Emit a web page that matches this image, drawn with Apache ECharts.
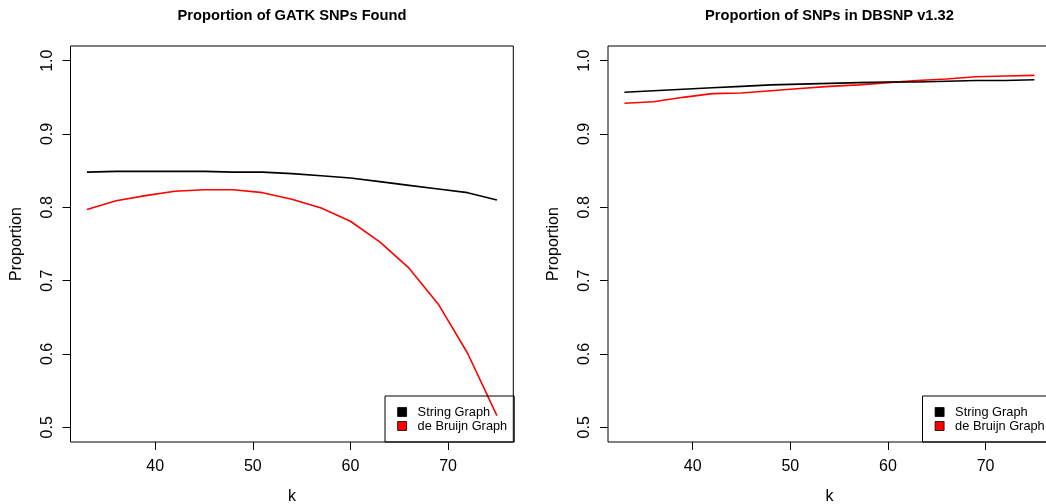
<!DOCTYPE html>
<html>
<head>
<meta charset="utf-8">
<script src="https://cdn.jsdelivr.net/npm/echarts@6/dist/echarts.min.js"></script>
<style>
html, body { margin: 0; padding: 0; background: #fff; }
#view { width: 1046px; height: 504px; }
</style>
</head>
<body>
<div id="view"></div>
<script>
var myChart = echarts.init(document.getElementById('view'));

// k values (x axis)
var kValues = [33, 36, 39, 42, 45, 48, 51, 54, 57, 60, 63, 66, 69, 72, 75];

// left panel: proportion of GATK SNPs found
var gatkString = [0.848, 0.849, 0.849, 0.849, 0.849, 0.848, 0.848, 0.846, 0.843, 0.840, 0.835, 0.830, 0.825, 0.820, 0.810];
var gatkDeBruijn = [0.797, 0.809, 0.816, 0.822, 0.824, 0.824, 0.820, 0.811, 0.799, 0.781, 0.753, 0.717, 0.668, 0.601, 0.516];

// right panel: proportion of SNPs in DBSNP
var dbsnpString = [0.957, 0.959, 0.961, 0.963, 0.965, 0.967, 0.968, 0.969, 0.970, 0.971, 0.971, 0.972, 0.973, 0.973, 0.974];
var dbsnpDeBruijn = [0.942, 0.944, 0.950, 0.955, 0.956, 0.959, 0.962, 0.965, 0.967, 0.970, 0.973, 0.975, 0.978, 0.979, 0.980];

var xTicks = [40, 50, 60, 70];
var yTicks = [0.5, 0.6, 0.7, 0.8, 0.9, 1.0];
var titles = ['Proportion of GATK SNPs Found', 'Proportion of SNPs in DBSNP v1.32'];
var seriesNames = ['String Graph', 'de Bruijn Graph'];
var colors = ['#000000', '#ff0000'];

var font = "'Liberation Sans', Arial, Helvetica, sans-serif";

function pairs(ys) {
    return kValues.map(function (k, i) { return [k, ys[i]]; });
}

// second panel runs past the right edge of the picture, like the reference
var grids = [
    { left: 70.5, width: 442.8, top: 46, height: 396 },
    { left: 608, width: 442.8, top: 46, height: 396 }
];

var xAxes = [], yAxes = [], titleOpts = [], legends = [];
for (var g = 0; g < 2; g++) {
    grids[g].show = true;
    grids[g].borderColor = '#000';
    grids[g].borderWidth = 1;
    grids[g].backgroundColor = 'transparent';
    grids[g].outerBoundsMode = 'none';
    grids[g].containLabel = false;

    xAxes.push({
        type: 'value',
        gridIndex: g,
        min: 31.32,
        max: 76.68,
        name: 'k',
        nameLocation: 'middle',
        nameGap: 47,
        nameTextStyle: { color: '#000', fontSize: 16, fontFamily: font },
        axisLine: { show: false },
        axisTick: { show: true, inside: false, length: 8, customValues: xTicks, lineStyle: { color: '#000', width: 1 } },
        axisLabel: { show: true, margin: 17, customValues: xTicks, color: '#000', fontSize: 16, fontFamily: font },
        splitLine: { show: false }
    });
    yAxes.push({
        type: 'value',
        gridIndex: g,
        min: 0.48,
        max: 1.02,
        name: 'Proportion',
        nameLocation: 'middle',
        nameRotate: 90,
        nameGap: 46,
        nameTextStyle: { color: '#000', fontSize: 16, fontFamily: font },
        axisLine: { show: false },
        axisTick: { show: true, inside: false, length: 8, customValues: yTicks, lineStyle: { color: '#000', width: 1 } },
        axisLabel: {
            show: true, rotate: 90, margin: 15, customValues: yTicks,
            color: '#000', fontSize: 16, fontFamily: font,
            formatter: function (v) { return v.toFixed(1); }
        },
        splitLine: { show: false }
    });
    titleOpts.push({
        text: titles[g],
        left: g === 0 ? 292 : 829.5,
        top: 8.5,
        padding: 0,
        textAlign: 'center',
        textStyle: { color: '#000', fontSize: 14.7, fontWeight: 'bold', fontFamily: font }
    });
    legends.push({
        orient: 'vertical',
        left: g === 0 ? 385 : 922.5,
        top: 396,
        padding: [9, 7, 9, 12.2],
        borderColor: '#000',
        borderWidth: 1,
        backgroundColor: 'transparent',
        itemWidth: 9,
        itemHeight: 9,
        itemGap: 0,
        selectedMode: false,
        textStyle: { color: '#000', fontSize: 12.8, lineHeight: 14, padding: [0, 0, 0, 6], fontFamily: font },
        data: seriesNames.map(function (n, i) {
            return {
                name: n,
                icon: 'rect',
                itemStyle: { color: colors[i], borderColor: '#000', borderWidth: 0.8 }
            };
        })
    });
}

var panels = [[gatkString, gatkDeBruijn], [dbsnpString, dbsnpDeBruijn]];
var series = [];
for (var p = 0; p < 2; p++) {
    for (var s = 0; s < 2; s++) {
        series.push({
            name: seriesNames[s],
            type: 'line',
            xAxisIndex: p,
            yAxisIndex: p,
            showSymbol: false,
            symbol: 'none',
            z: s === 0 ? 3 : 2,
            lineStyle: { color: colors[s], width: 1.6 },
            itemStyle: { color: colors[s] },
            data: pairs(panels[p][s])
        });
    }
}

var option = {
    animation: false,
    backgroundColor: '#fff',
    title: titleOpts,
    legend: legends,
    grid: grids,
    xAxis: xAxes,
    yAxis: yAxes,
    series: series
};

myChart.setOption(option);
</script>
</body>
</html>
